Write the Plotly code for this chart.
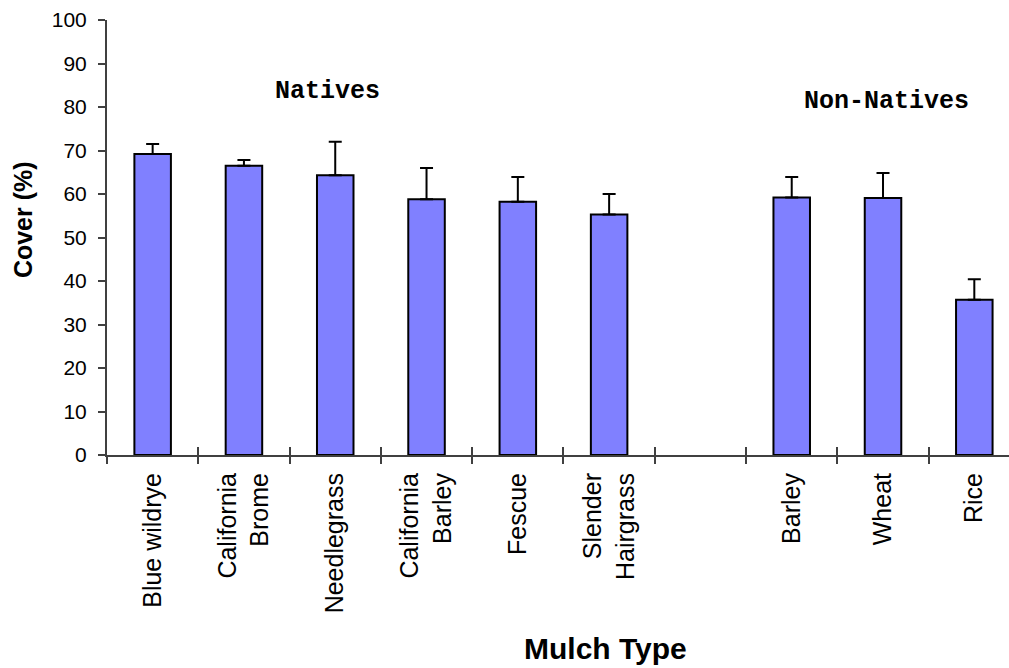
import plotly.graph_objects as go

# Mulch types (a blank slot separates natives from non-natives)
categories = ["Blue wildrye", "California<br>Brome", "Needlegrass", "California<br>Barley",
              "Fescue", "Slender<br>Hairgrass", " ", "Barley", "Wheat", "Rice"]
cover = [69.2, 66.5, 64.3, 58.8, 58.2, 55.3, None, 59.2, 59.1, 35.7]
cover_se = [2.3, 1.3, 7.7, 7.2, 5.7, 4.7, None, 4.7, 5.7, 4.7]
y_ticks = [0, 10, 20, 30, 40, 50, 60, 70, 80, 90, 100]

AXIS_COLOR = "#404040"
X_RANGE = [-0.5, 9.38]
LABEL_FONT = dict(family="Liberation Sans, Arial, sans-serif", size=25, color="black")

# category boundaries on a linear twin axis (for the upper half of the cross ticks)
positions = list(range(len(categories)))
boundaries = [p - 0.5 for p in positions] + [positions[-1] + 0.5]

fig = go.Figure()
fig.add_trace(go.Bar(
    x=categories, y=cover, width=0.4,
    marker=dict(color="#8080FF", line=dict(color="black", width=2)),
    error_y=dict(type="data", symmetric=False, array=cover_se,
                 arrayminus=[0] * len(cover_se), color="black", thickness=2, width=6.5),
    showlegend=False, hoverinfo="x+y",
))
fig.add_trace(go.Scatter(x=positions, y=cover, xaxis="x2", mode="markers",
                         marker=dict(opacity=0), showlegend=False, hoverinfo="skip"))

fig.update_layout(
    width=1009, height=668,
    margin=dict(l=107, r=0, t=20, b=213, autoexpand=False),
    plot_bgcolor="white", paper_bgcolor="white",
    xaxis=dict(type="category", categoryorder="array", categoryarray=categories,
               range=X_RANGE, tickson="boundaries", ticks="outside", ticklen=7,
               tickwidth=1.5, tickcolor=AXIS_COLOR, showline=True, linecolor=AXIS_COLOR,
               linewidth=2, tickangle=-90, tickfont=LABEL_FONT, showgrid=False,
               zeroline=False, automargin=False, ticklabelstandoff=6),
    xaxis2=dict(type="linear", overlaying="x", anchor="y", side="bottom",
                range=X_RANGE, tickmode="array", tickvals=boundaries, ticks="inside",
                ticklen=8, tickwidth=1.5, tickcolor=AXIS_COLOR, showticklabels=False,
                showline=False, showgrid=False, zeroline=False, automargin=False),
    yaxis=dict(range=[0, 100], tickvals=y_ticks, ticks="outside", ticklen=7,
               tickwidth=1.5, tickcolor=AXIS_COLOR, showline=True, linecolor=AXIS_COLOR,
               linewidth=2, showgrid=False, zeroline=False, automargin=False,
               ticklabelstandoff=7,
               tickfont=dict(family="Liberation Sans, Arial, sans-serif", size=21, color="black")),
    annotations=[
        dict(text="<b>Natives</b>", xref="paper", yref="y", x=0.2445, y=83.5,
             xanchor="center", yanchor="middle", showarrow=False,
             font=dict(family="Liberation Mono, Courier New, monospace", size=25, color="black")),
        dict(text="<b>Non-Natives</b>", xref="paper", yref="y", x=0.864, y=81.3,
             xanchor="center", yanchor="middle", showarrow=False,
             font=dict(family="Liberation Mono, Courier New, monospace", size=25, color="black")),
        dict(text="<b>Mulch Type</b>", xref="paper", yref="paper", x=0.553, y=-0.445,
             xanchor="center", yanchor="middle", showarrow=False,
             font=dict(family="Liberation Sans, Arial, sans-serif", size=30, color="black")),
        dict(text="<b>Cover (%)</b>", xref="paper", yref="paper", x=-0.0931, y=0.54,
             xanchor="center", yanchor="middle", textangle=-90, showarrow=False,
             font=dict(family="Liberation Sans, Arial, sans-serif", size=25, color="black")),
    ],
)

fig.write_html("out.html")
